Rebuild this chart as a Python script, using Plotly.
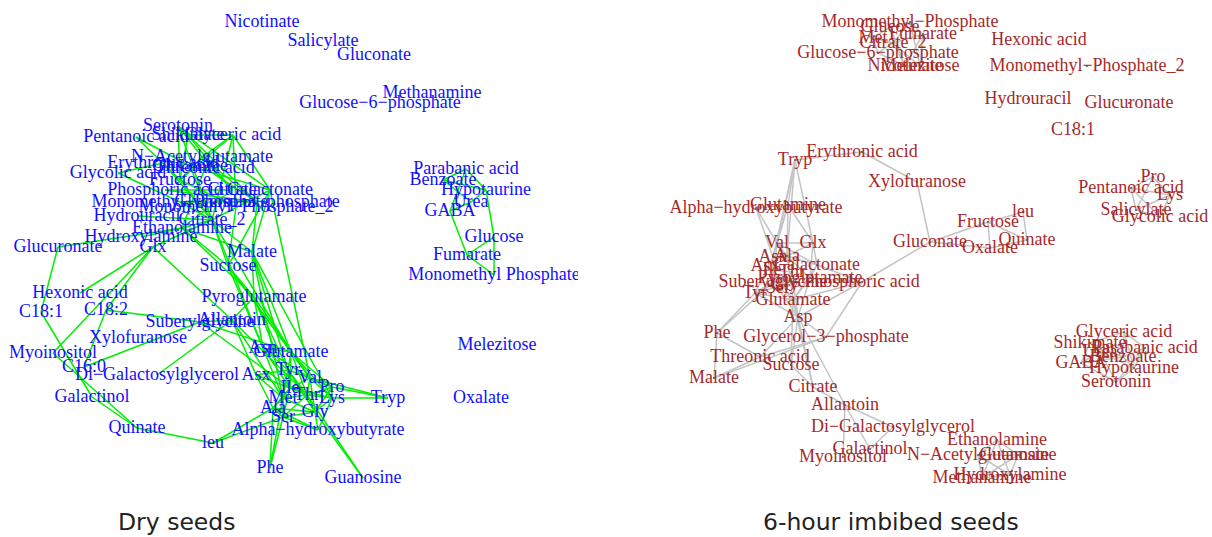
import plotly.graph_objects as go

# ---------------- Dry seeds network (left) ----------------
left_names = [
    "Nicotinate", "Salicylate", "Gluconate", "Methanamine", "Glucose−6−phosphate",
    "Serotonin", "Pentanoic acid", "Shikimate", "Glyceric acid", "N−Acetylglutamate",
    "Erythronic acid", "Glutamine", "Threonic acid", "Glycolic acid", "Fructose",
    "Phosphoric acid", "Galactonate", "Citrate", "Monomethyl−Phosphate",
    "Glycerol−3−phosphate", "Monomethyl−Phosphate_2", "Hydrouracil", "Citrate_2",
    "Ethanolamine", "Hydroxylamine", "Glucuronate", "Glx", "Malate", "Sucrose",
    "Hexonic acid", "Pyroglutamate", "C18:1", "C18:2", "Allantoin", "Suberylglycine",
    "Xylofuranose", "Asn", "Glutamate", "Myoinositol", "C16:0", "Di−Galactosylglycerol",
    "Asx", "Tyr", "Val", "Ile", "Pro", "Thr", "Lys", "Met", "Tryp", "Galactinol",
    "Ala", "Gly", "Ser", "Quinate", "Alpha−hydroxybutyrate", "leu", "Phe", "Guanosine",
    "Parabanic acid", "Benzoate", "Hypotaurine", "Urea", "GABA", "Glucose", "Fumarate",
    "Monomethyl Phosphate", "Melezitose", "Oxalate",
]
left_x = [
    262, 323, 374, 432, 380,
    178, 136, 188, 233, 202,
    163, 190, 205, 118, 180,
    165, 270, 232, 180,
    257, 236, 137, 212,
    182, 141, 58, 153, 252, 228,
    80, 254, 41, 106, 232, 200,
    138, 263, 291, 53, 84, 157,
    256, 288, 310, 290, 332, 307, 332, 283, 388, 92,
    273, 315, 283, 137, 318, 213, 270, 363,
    466, 443, 486, 471, 450, 494, 467,
    494, 497, 481,
]
left_y = [
    22, 41, 55, 93, 103,
    126, 137, 135, 135, 157,
    163, 166, 168, 173, 180,
    190, 190, 190, 202,
    202, 207, 216, 220,
    228, 237, 247, 247, 252, 266,
    293, 297, 312, 310, 320, 322,
    338, 348, 352, 353, 367, 375,
    375, 370, 378, 388, 387, 395, 398, 398, 398, 397,
    408, 412, 417, 428, 430, 443, 468, 478,
    169, 180, 190, 202, 211, 237, 255,
    275, 345, 398,
]
left_edges = [
    ("Serotonin", "Shikimate"), ("Serotonin", "N−Acetylglutamate"), ("Serotonin", "Fructose"),
    ("Serotonin", "Galactonate"), ("Serotonin", "Citrate_2"), ("Shikimate", "Glyceric acid"),
    ("Shikimate", "Fructose"), ("Shikimate", "Citrate"), ("Shikimate", "Glycerol−3−phosphate"),
    ("Glyceric acid", "N−Acetylglutamate"), ("Glyceric acid", "Galactonate"),
    ("Glyceric acid", "Citrate_2"), ("Glyceric acid", "Fructose"),
    ("Glyceric acid", "Monomethyl−Phosphate_2"), ("N−Acetylglutamate", "Fructose"),
    ("N−Acetylglutamate", "Citrate"), ("N−Acetylglutamate", "Glycerol−3−phosphate"),
    ("Erythronic acid", "Fructose"), ("Erythronic acid", "Citrate_2"),
    ("Glutamine", "Galactonate"), ("Glutamine", "Citrate_2"),
    ("Threonic acid", "Glycerol−3−phosphate"), ("Threonic acid", "Ethanolamine"),
    ("Fructose", "Citrate_2"), ("Fructose", "Monomethyl−Phosphate_2"),
    ("Phosphoric acid", "Citrate"), ("Phosphoric acid", "Glycerol−3−phosphate"),
    ("Galactonate", "Citrate_2"), ("Galactonate", "Malate"), ("Citrate", "Ethanolamine"),
    ("Monomethyl−Phosphate", "Citrate_2"), ("Monomethyl−Phosphate", "Glycerol−3−phosphate"),
    ("Glycerol−3−phosphate", "Malate"), ("Monomethyl−Phosphate_2", "Sucrose"),
    ("Citrate_2", "Ethanolamine"), ("Citrate_2", "Malate"), ("Citrate_2", "Sucrose"),
    ("Ethanolamine", "Malate"), ("Ethanolamine", "Sucrose"),
    ("Pentanoic acid", "Glutamine"), ("Pentanoic acid", "Fructose"),
    ("Glycolic acid", "Erythronic acid"), ("Glycolic acid", "Monomethyl−Phosphate"),
    ("Hydrouracil", "Citrate_2"), ("Hydroxylamine", "Ethanolamine"),
    ("Glucuronate", "Ethanolamine"), ("Glucuronate", "C18:1"),
    ("Glx", "Citrate_2"), ("Glx", "Hexonic acid"), ("Glx", "Myoinositol"), ("Glx", "Allantoin"),
    ("Glx", "C18:2"), ("C18:2", "Suberylglycine"), ("C18:2", "C16:0"),
    ("C18:1", "Galactinol"), ("Myoinositol", "Quinate"),
    ("Di−Galactosylglycerol", "Allantoin"), ("C16:0", "Suberylglycine"),
    ("Quinate", "leu"), ("Galactinol", "Quinate"), ("leu", "Ala"), ("leu", "Ser"),
    ("Sucrose", "Pyroglutamate"), ("Sucrose", "Asn"), ("Sucrose", "Glutamate"), ("Sucrose", "Val"),
    ("Malate", "Pyroglutamate"), ("Malate", "Tyr"), ("Malate", "Glutamate"), ("Malate", "Lys"),
    ("Malate", "Met"), ("Pyroglutamate", "Allantoin"), ("Pyroglutamate", "Asn"),
    ("Pyroglutamate", "Tyr"), ("Pyroglutamate", "Val"), ("Pyroglutamate", "Ile"),
    ("Allantoin", "Asx"), ("Allantoin", "Met"), ("Allantoin", "Thr"),
    ("Suberylglycine", "Allantoin"), ("Suberylglycine", "Glutamate"), ("Suberylglycine", "Ile"),
    ("Ethanolamine", "Pyroglutamate"), ("Citrate_2", "Asn"), ("Citrate_2", "Glutamate"),
    ("Galactonate", "Val"), ("Galactonate", "Sucrose"),
    ("Asn", "Glutamate"), ("Asn", "Tyr"), ("Asn", "Ile"), ("Asn", "Met"), ("Asn", "Val"),
    ("Glutamate", "Tyr"), ("Glutamate", "Val"), ("Glutamate", "Pro"), ("Glutamate", "Lys"),
    ("Glutamate", "Thr"), ("Glutamate", "Ile"), ("Asx", "Tyr"), ("Asx", "Met"), ("Asx", "Ala"),
    ("Asx", "Ile"), ("Tyr", "Val"), ("Tyr", "Ile"), ("Tyr", "Thr"), ("Tyr", "Met"), ("Tyr", "Gly"),
    ("Val", "Pro"), ("Val", "Ile"), ("Val", "Thr"), ("Val", "Lys"), ("Val", "Gly"),
    ("Ile", "Thr"), ("Ile", "Met"), ("Ile", "Lys"), ("Ile", "Ala"), ("Ile", "Ser"),
    ("Pro", "Lys"), ("Pro", "Thr"), ("Pro", "Gly"), ("Thr", "Lys"), ("Thr", "Met"),
    ("Thr", "Gly"), ("Thr", "Ser"), ("Lys", "Gly"), ("Met", "Ala"), ("Met", "Ser"),
    ("Met", "Gly"), ("Ala", "Ser"), ("Ala", "Gly"), ("Gly", "Ser"),
    ("Gly", "Alpha−hydroxybutyrate"), ("Ser", "Alpha−hydroxybutyrate"),
    ("Ala", "Alpha−hydroxybutyrate"), ("Lys", "Alpha−hydroxybutyrate"),
    ("Tryp", "Pro"), ("Tryp", "Lys"), ("Tryp", "Val"),
    ("Phe", "Ser"), ("Phe", "Ala"), ("Phe", "Met"), ("Guanosine", "Gly"), ("Guanosine", "Thr"),
    ("Parabanic acid", "Benzoate"), ("Parabanic acid", "Hypotaurine"), ("Parabanic acid", "GABA"),
    ("Benzoate", "Urea"), ("Benzoate", "Hypotaurine"), ("Hypotaurine", "Urea"),
    ("Hypotaurine", "Glucose"), ("GABA", "Urea"), ("GABA", "Fumarate"), ("Glucose", "Fumarate"),
    ("Glucose", "Monomethyl Phosphate"), ("Fumarate", "Monomethyl Phosphate"),
]

# ---------------- 6-hour imbibed seeds network (right) ----------------
right_names = [
    "Monomethyl−Phosphate", "Glucose", "Fumarate", "Met", "Citrate_2", "Glucose−6−phosphate",
    "Nicotinate", "Melezitose", "Hexonic acid", "Monomethyl−Phosphate_2", "Hydrouracil",
    "Glucuronate", "C18:1", "Tryp", "Erythronic acid", "Xylofuranose", "Alpha−hydroxybutyrate",
    "Glutamine", "Val", "Glx", "Asn", "Ala", "Galactonate", "Ile", "Thr", "Asx", "Gly", "Ser",
    "Suberylglycine", "Pyroglutamate", "Phosphoric acid", "Tyr", "Glutamate", "Asp", "Phe",
    "Glycerol−3−phosphate", "Threonic acid", "Sucrose", "Malate", "Citrate", "Allantoin",
    "Di−Galactosylglycerol", "Galactinol", "Myoinositol", "Ethanolamine", "N−Acetylglutamate",
    "Guanosine", "Hydroxylamine", "Methanamine", "Gluconate", "Fructose", "leu", "Quinate",
    "Oxalate", "Pro", "Pentanoic acid", "Lys", "Salicylate", "Glycolic acid", "Glyceric acid",
    "Shikimate", "Parabanic acid", "Benzoate", "Urea", "GABA", "Hypotaurine", "Serotonin",
]
right_x = [
    910, 890, 923, 873, 893, 878,
    905, 920, 1039, 1087, 1028,
    1129, 1073, 795, 862, 917, 756,
    788, 777, 813, 773, 787, 817, 772, 792, 765, 785, 778,
    773, 810, 862, 755, 793, 798, 717,
    826, 760, 791, 714, 813, 845,
    893, 870, 843, 997, 978,
    1018, 1010, 982, 930, 988, 1023, 1027,
    990, 1153, 1131, 1170, 1136, 1160, 1124,
    1090, 1145, 1123, 1100, 1081, 1134, 1116,
]
right_y = [
    22, 27, 34, 38, 43, 53,
    66, 66, 40, 66, 99,
    103, 130, 160, 152, 182, 208,
    205, 243, 243, 257, 256, 265, 270, 272, 266, 285, 288,
    282, 278, 282, 293, 300, 317, 333,
    337, 357, 365, 378, 387, 405,
    427, 449, 457, 440, 455,
    455, 475, 478, 242, 222, 212, 240,
    248, 177, 188, 195, 210, 217, 332,
    343, 348, 357, 352, 363, 368, 382,
]
right_edges = [
    ("Monomethyl−Phosphate", "Glucose"), ("Monomethyl−Phosphate", "Fumarate"),
    ("Monomethyl−Phosphate", "Citrate_2"), ("Monomethyl−Phosphate", "Melezitose"),
    ("Glucose", "Citrate_2"), ("Glucose", "Met"), ("Glucose", "Nicotinate"),
    ("Fumarate", "Citrate_2"), ("Fumarate", "Melezitose"), ("Fumarate", "Nicotinate"),
    ("Met", "Glucose−6−phosphate"), ("Met", "Citrate_2"), ("Citrate_2", "Glucose−6−phosphate"),
    ("Citrate_2", "Nicotinate"), ("Citrate_2", "Melezitose"),
    ("Glucose−6−phosphate", "Nicotinate"), ("Nicotinate", "Melezitose"),
    ("Tryp", "Erythronic acid"), ("Erythronic acid", "Xylofuranose"),
    ("Xylofuranose", "Gluconate"), ("Gluconate", "Phosphoric acid"),
    ("Gluconate", "Fructose"), ("Gluconate", "Oxalate"), ("Fructose", "leu"),
    ("Fructose", "Quinate"), ("Fructose", "Oxalate"), ("leu", "Quinate"), ("Quinate", "Oxalate"),
    ("Tryp", "Glutamine"), ("Tryp", "Val"), ("Tryp", "Asn"), ("Tryp", "Glx"), ("Tryp", "Ala"),
    ("Alpha−hydroxybutyrate", "Glutamine"), ("Alpha−hydroxybutyrate", "Val"),
    ("Alpha−hydroxybutyrate", "Asn"), ("Glutamine", "Val"), ("Glutamine", "Glx"),
    ("Glutamine", "Asn"), ("Glutamine", "Ala"),
    ("Val", "Glx"), ("Val", "Asn"), ("Val", "Ala"), ("Val", "Galactonate"), ("Val", "Suberylglycine"),
    ("Glx", "Ala"), ("Glx", "Galactonate"), ("Glx", "Pyroglutamate"), ("Asn", "Ala"),
    ("Asn", "Suberylglycine"), ("Asn", "Tyr"), ("Ala", "Galactonate"), ("Ala", "Pyroglutamate"),
    ("Ala", "Glutamate"), ("Galactonate", "Pyroglutamate"), ("Galactonate", "Phosphoric acid"),
    ("Galactonate", "Glutamate"), ("Suberylglycine", "Pyroglutamate"), ("Suberylglycine", "Tyr"),
    ("Suberylglycine", "Glutamate"), ("Pyroglutamate", "Glutamate"), ("Pyroglutamate", "Asp"),
    ("Pyroglutamate", "Phosphoric acid"), ("Tyr", "Glutamate"), ("Tyr", "Asp"),
    ("Glutamate", "Asp"), ("Asp", "Phosphoric acid"), ("Glutamate", "Phosphoric acid"),
    ("Ile", "Thr"), ("Ile", "Asx"), ("Ile", "Gly"), ("Thr", "Ser"), ("Asx", "Gly"), ("Gly", "Ser"),
    ("Ile", "Glutamate"), ("Thr", "Asp"), ("Ser", "Asp"), ("Gly", "Tyr"),
    ("Phe", "Suberylglycine"), ("Phe", "Tyr"), ("Phe", "Threonic acid"), ("Phe", "Malate"),
    ("Malate", "Threonic acid"), ("Threonic acid", "Asp"), ("Threonic acid", "Glycerol−3−phosphate"),
    ("Malate", "Glycerol−3−phosphate"), ("Sucrose", "Asp"), ("Sucrose", "Glutamate"),
    ("Sucrose", "Citrate"), ("Citrate", "Asp"), ("Citrate", "Allantoin"), ("Citrate", "Glutamate"),
    ("Glycerol−3−phosphate", "Phosphoric acid"), ("Glycerol−3−phosphate", "Asp"),
    ("Allantoin", "Myoinositol"), ("Allantoin", "Di−Galactosylglycerol"), ("Allantoin", "Galactinol"),
    ("Galactinol", "Di−Galactosylglycerol"), ("Asp", "Allantoin"),
    ("Ethanolamine", "N−Acetylglutamate"), ("Ethanolamine", "Guanosine"),
    ("Ethanolamine", "Hydroxylamine"), ("Ethanolamine", "Methanamine"),
    ("N−Acetylglutamate", "Guanosine"), ("N−Acetylglutamate", "Hydroxylamine"),
    ("N−Acetylglutamate", "Methanamine"), ("Guanosine", "Hydroxylamine"),
    ("Guanosine", "Methanamine"), ("Hydroxylamine", "Methanamine"),
    ("Pro", "Pentanoic acid"), ("Pro", "Lys"), ("Pro", "Salicylate"), ("Pentanoic acid", "Lys"),
    ("Pentanoic acid", "Salicylate"), ("Pentanoic acid", "Glycolic acid"), ("Lys", "Salicylate"),
    ("Lys", "Glycolic acid"), ("Salicylate", "Glycolic acid"),
    ("Glyceric acid", "Shikimate"), ("Glyceric acid", "Parabanic acid"),
    ("Glyceric acid", "Benzoate"), ("Glyceric acid", "Hypotaurine"), ("Shikimate", "GABA"),
    ("Shikimate", "Urea"), ("Shikimate", "Benzoate"), ("Parabanic acid", "Benzoate"),
    ("Parabanic acid", "Hypotaurine"), ("Parabanic acid", "Serotonin"),
    ("Benzoate", "Hypotaurine"), ("Benzoate", "GABA"), ("Urea", "GABA"), ("Urea", "Serotonin"),
    ("GABA", "Serotonin"), ("Hypotaurine", "Serotonin"), ("Urea", "Hypotaurine"),
]

W, H = 1212, 537
SPLIT = 578  # panel boundary in layout pixels
SERIF = "Liberation Serif, Times New Roman, serif"


def edge_coords(names, xs, ys, edges):
    pos = {n: (x, y) for n, x, y in zip(names, xs, ys)}
    ex, ey = [], []
    for a, b in edges:
        ex += [pos[a][0], pos[b][0], None]
        ey += [pos[a][1], pos[b][1], None]
    return ex, ey


fig = go.Figure()

lex, ley = edge_coords(left_names, left_x, left_y, left_edges)
fig.add_trace(go.Scatter(x=lex, y=ley, mode="lines", xaxis="x", yaxis="y",
                         line=dict(color="#00EE00", width=1.5), hoverinfo="skip"))
fig.add_trace(go.Scatter(x=left_x, y=left_y, text=left_names, mode="text", xaxis="x", yaxis="y",
                         textposition="middle center", cliponaxis=True,
                         textfont=dict(family=SERIF, size=18, color="#1010FF")))

rex, rey = edge_coords(right_names, right_x, right_y, right_edges)
fig.add_trace(go.Scatter(x=rex, y=rey, mode="lines", xaxis="x2", yaxis="y2",
                         line=dict(color="#C4C4C4", width=1.5), hoverinfo="skip"))
fig.add_trace(go.Scatter(x=right_x, y=right_y, text=right_names, mode="markers+text",
                         xaxis="x2", yaxis="y2", textposition="middle center", cliponaxis=True,
                         marker=dict(size=2, color="#555555"),
                         textfont=dict(family=SERIF, size=18, color="#A52A2A")))

hidden = dict(showgrid=False, zeroline=False, showticklabels=False, showline=False, ticks="")
fig.update_layout(
    width=W, height=H,
    margin=dict(l=0, r=0, t=0, b=0),
    paper_bgcolor="white", plot_bgcolor="white",
    showlegend=False,
    xaxis=dict(domain=[0, SPLIT / W], range=[0, SPLIT], **hidden),
    yaxis=dict(domain=[0, 1], range=[H, 0], **hidden),
    xaxis2=dict(domain=[SPLIT / W, 1], range=[SPLIT, W], **hidden),
    yaxis2=dict(domain=[0, 1], range=[H, 0], anchor="x2", **hidden),
    annotations=[
        dict(text="Dry seeds", x=176 / W, y=1 - 522 / H, xref="paper", yref="paper",
             showarrow=False, xanchor="center", yanchor="middle",
             font=dict(family="DejaVu Sans", size=23.5, color="#222222")),
        dict(text="6-hour imbibed seeds", x=891 / W, y=1 - 522 / H, xref="paper", yref="paper",
             showarrow=False, xanchor="center", yanchor="middle",
             font=dict(family="DejaVu Sans", size=23.5, color="#222222")),
    ],
)

fig.write_html("out.html")
